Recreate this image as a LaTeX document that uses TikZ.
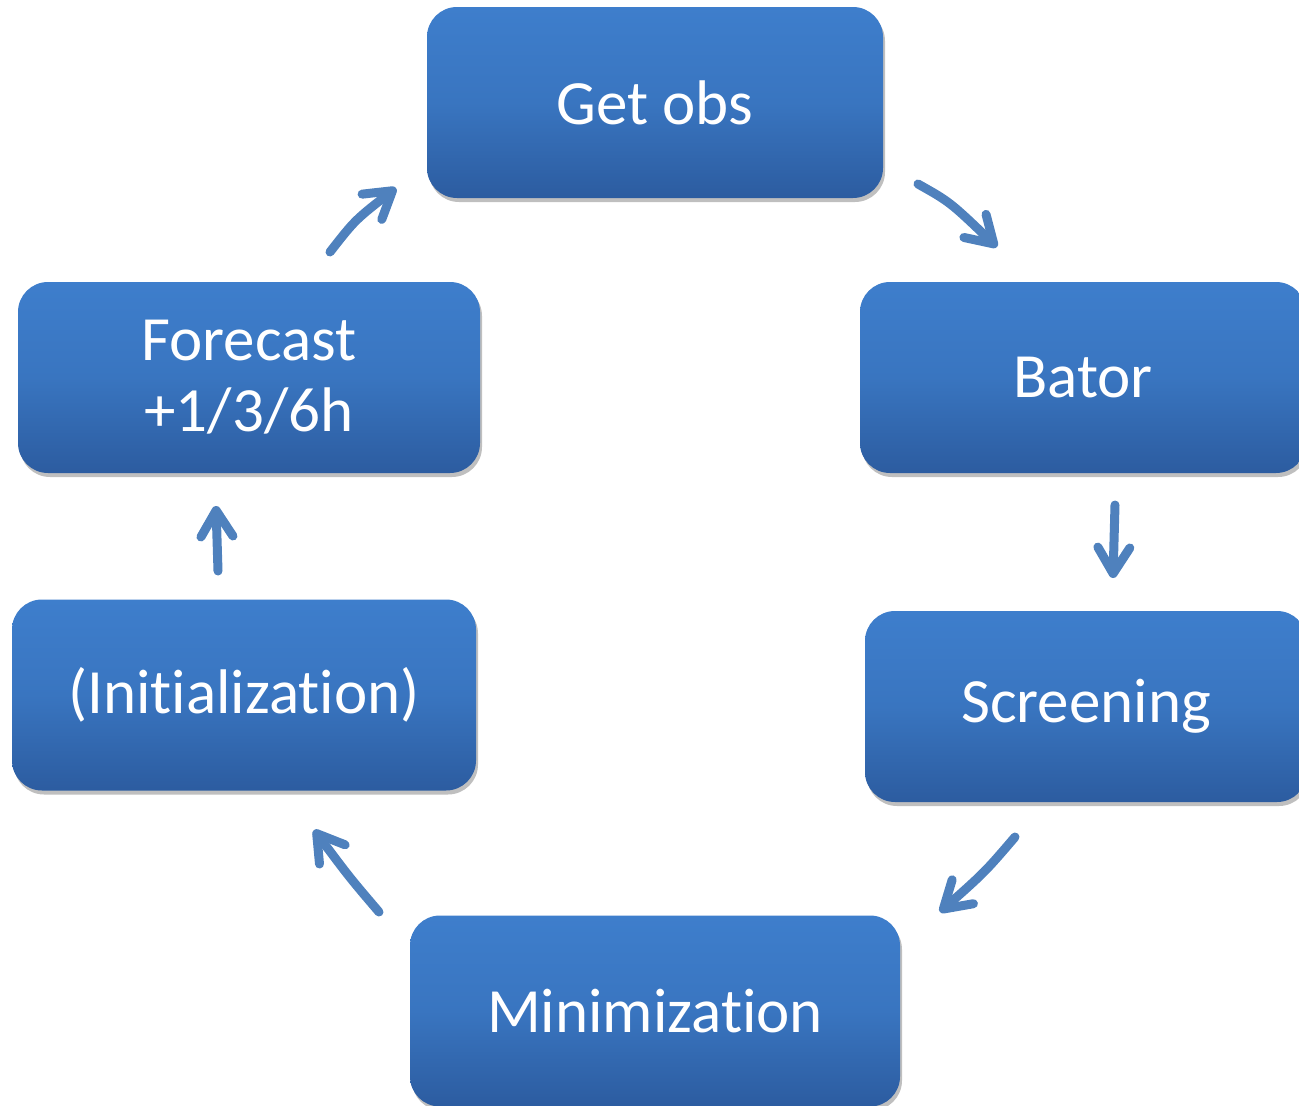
\documentclass[tikz,border=0pt]{standalone}
\usepackage{fontspec}
\setmainfont[Ligatures=NoCommon]{Carlito}
\usetikzlibrary{arrows.meta,shadows}
\definecolor{boxtop}{RGB}{62,126,204}
\definecolor{boxmid}{RGB}{57,117,192}
\definecolor{boxbot}{RGB}{44,92,160}
\definecolor{arrowblue}{RGB}{79,129,189}
\tikzset{
  stepbox/.style={rounded corners=30pt, top color=boxtop, bottom color=boxbot, middle color=boxmid,
    text=white, font=\fontsize{63}{71}\selectfont, align=center, inner sep=0pt,
    minimum height=191pt,
    drop shadow={shadow xshift=2pt, shadow yshift=-4pt, opacity=0.25, fill=black}},
  flow/.style={draw=arrowblue, line width=9pt, line cap=round,
    -{Straight Barb[length=26pt,width=32pt,round]}},
}
\begin{document}
\begin{tikzpicture}[x=1pt,y=-1pt]
\useasboundingbox (0,0) rectangle (1299,1106);
\node[stepbox, minimum width=456pt] (getobs) at (655,102.5) {Get obs};
\node[stepbox, minimum width=446pt] (bator) at (1083,377.5) {Bator};
\node[stepbox, minimum width=442pt] (screening) at (1086,706.5) {Screening};
\node[stepbox, minimum width=490pt] (minim) at (655,1011) {Minimization};
\node[stepbox, minimum width=464pt] (init) at (244,695) {(Initialization)};
\node[stepbox, minimum width=462pt] (forecast) at (249,377.5) {Forecast\\+1/3/6h};

\coordinate (a1s) at (918,184);
\coordinate (a1e) at (997,247);
\coordinate (a2s) at (1115,505);
\coordinate (a2e) at (1113,578);
\coordinate (a3s) at (1015,837);
\coordinate (a3e) at (940,912);
\coordinate (a4s) at (379,912);
\coordinate (a4e) at (314,830);
\coordinate (a5s) at (218,571);
\coordinate (a5e) at (216,506);
\coordinate (a6s) at (330,252);
\coordinate (a6e) at (396,188);

\draw[flow] (a1s) .. controls (950,202) .. (a1e);
\draw[flow] (a2s) -- (a2e);
\draw[flow] (a3s) .. controls (985,872) .. (a3e);
\draw[flow] (a4s) .. controls (350,878) .. (a4e);
\draw[flow] (a5s) -- (a5e);
\draw[flow] (a6s) .. controls (355,220) .. (a6e);
\end{tikzpicture}
\end{document}
